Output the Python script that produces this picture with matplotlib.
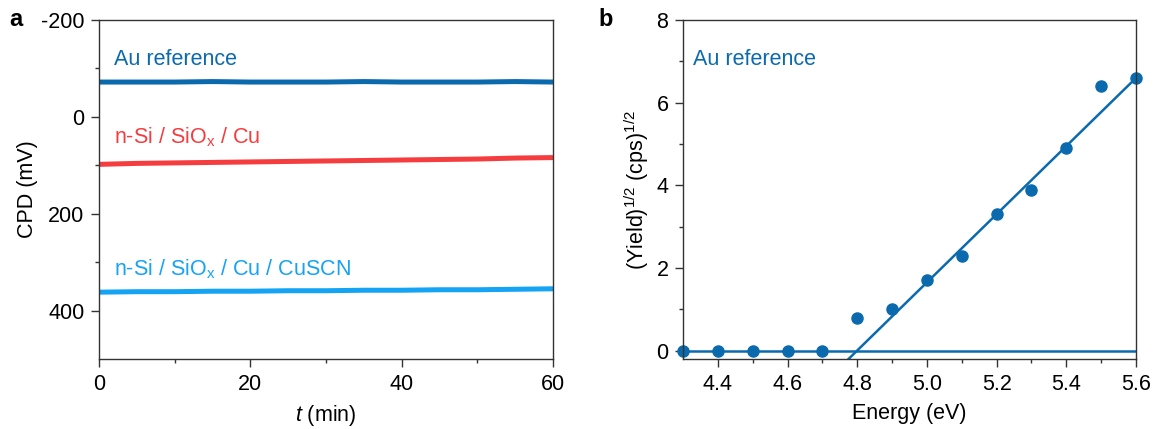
import numpy as np
import matplotlib.pyplot as plt
from matplotlib.ticker import MultipleLocator

plt.rcParams['font.family'] = ['Liberation Sans', 'DejaVu Sans']
plt.rcParams['mathtext.fontset'] = 'custom'
plt.rcParams['mathtext.rm'] = 'Liberation Sans'
plt.rcParams['mathtext.it'] = 'Liberation Sans:italic'
plt.rcParams['axes.unicode_minus'] = False
FS = 15.5

# Panel a: CPD traces read every 5 min
time_min = [0, 5, 10, 15, 20, 25, 30, 35, 40, 45, 50, 55, 60]
cpd_au = [-72, -72, -72, -73, -72, -72, -72, -73, -72, -72, -72, -73, -72]
cpd_cu = [98, 96, 95, 94, 93, 92, 91, 90, 89, 88, 87, 85, 84]
cpd_cuscn = [362, 361, 361, 360, 360, 359, 359, 358, 358, 357, 357, 356, 355]

# Panel b: photoemission yield
energy = [4.3, 4.4, 4.5, 4.6, 4.7, 4.8, 4.9, 5.0, 5.1, 5.2, 5.3, 5.4, 5.5, 5.6]
sqrt_yield = [0, 0, 0, 0, 0, 0.8, 1.0, 1.7, 2.3, 3.3, 3.9, 4.9, 6.4, 6.6]
fit_energy = [4.775, 5.6]
fit_yield = [-0.2, 6.6]
base_energy = [4.3, 5.6]
base_yield = [0, 0]

DARK_BLUE = "#0b6aae"
RED = "#f53c3e"
LIGHT_BLUE = "#15a3f3"
SPINE = "#333333"

fig = plt.figure(figsize=(11.54, 4.29), dpi=100)
ax1 = fig.add_axes([0.0858, 0.1632, 0.3934, 0.790])
ax2 = fig.add_axes([0.5919, 0.1632, 0.3925, 0.790])

for ax in (ax1, ax2):
    for s in ax.spines.values():
        s.set_color(SPINE)
        s.set_linewidth(1.0)
    ax.tick_params(which='major', direction='out', length=5.5, width=1, color=SPINE,
                   labelsize=FS, pad=5)
    ax.tick_params(which='minor', direction='out', length=3, width=1, color=SPINE)

# a
ax1.plot(time_min, cpd_au, color=DARK_BLUE, lw=3.6, solid_capstyle='butt')
ax1.plot(time_min, cpd_cu, color=RED, lw=3.6, solid_capstyle='butt')
ax1.plot(time_min, cpd_cuscn, color=LIGHT_BLUE, lw=3.6, solid_capstyle='butt')
ax1.set_xlim(0, 60)
ax1.set_ylim(500, -200)
ax1.xaxis.set_major_locator(MultipleLocator(20))
ax1.xaxis.set_minor_locator(MultipleLocator(10))
ax1.set_yticks([-200, 0, 200, 400])
ax1.set_yticks([-100, 100, 300], minor=True)
ax1.set_xlabel("$t$ (min)", fontsize=FS, labelpad=6)
ax1.set_ylabel("CPD (mV)", fontsize=FS, labelpad=2)
ax1.text(0.033, 0.885, "Au reference", transform=ax1.transAxes, color=DARK_BLUE,
         fontsize=FS, va='center')
ax1.text(0.033, 0.655, "n-Si / SiO$_\\mathregular{x}$ / Cu", transform=ax1.transAxes, color=RED,
         fontsize=FS, va='center')
ax1.text(0.033, 0.265, "n-Si / SiO$_\\mathregular{x}$ / Cu / CuSCN", transform=ax1.transAxes,
         color=LIGHT_BLUE, fontsize=FS, va='center')

# b
ax2.plot(base_energy, base_yield, color=DARK_BLUE, lw=1.8)
ax2.plot(fit_energy, fit_yield, color=DARK_BLUE, lw=1.8)
ax2.plot(energy, sqrt_yield, 'o', color=DARK_BLUE, ms=8, clip_on=False)
ax2.set_xlim(4.3, 5.6)
ax2.set_ylim(-0.2, 8)
ax2.set_xticks([4.4, 4.6, 4.8, 5.0, 5.2, 5.4, 5.6])
ax2.set_xticks([4.5, 4.7, 4.9, 5.1, 5.3, 5.5], minor=True)
ax2.set_xticklabels(["4.4", "4.6", "4.8", "5.0", "5.2", "5.4", "5.6"])
ax2.yaxis.set_major_locator(MultipleLocator(2))
ax2.yaxis.set_minor_locator(MultipleLocator(1))
ax2.set_xlabel("Energy (eV)", fontsize=FS, labelpad=6)
ax2.set_ylabel("(Yield)$^{1/2}$ (cps)$^{1/2}$", fontsize=FS, labelpad=4)
ax2.text(0.023, 0.885, "Au reference", transform=ax2.transAxes, color=DARK_BLUE,
         fontsize=FS, va='center')

fig.text(0.008, 0.955, "a", fontsize=17, fontweight='bold', va='center')
fig.text(0.519, 0.955, "b", fontsize=17, fontweight='bold', va='center')

plt.savefig("out.png", dpi=100)
